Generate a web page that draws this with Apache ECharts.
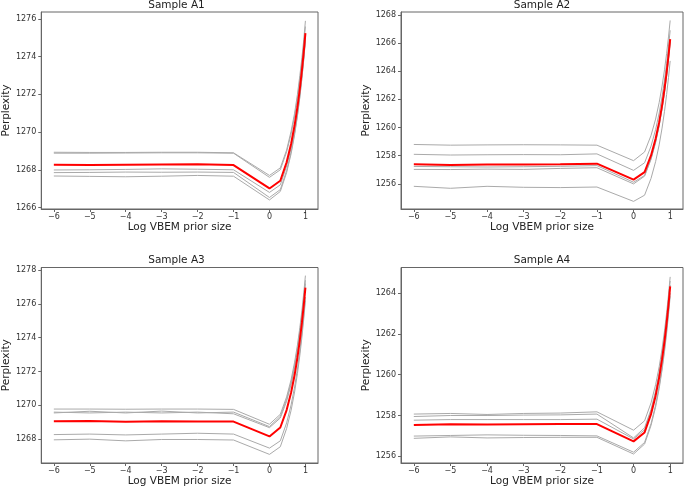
<!DOCTYPE html>
<html><head><meta charset="utf-8">
<script src="https://cdn.jsdelivr.net/npm/echarts@6/dist/echarts.min.js"></script>
<style>html,body{margin:0;padding:0;background:#fff}#c{width:685px;height:488px}</style>
</head><body><div id="c"></div>
<script>
// x = log10(prior size): 1e-6 ... 1e-1, then 1,2,...,10
const xVals = [-6,-5,-4,-3,-2,-1,0,0.301,0.477,0.602,0.699,0.778,0.845,0.903,0.954,1];
const xTicks = [-6,-5,-4,-3,-2,-1,0,1];
const titles = ['Sample A1','Sample A2','Sample A3','Sample A4'];

const a1Runs = [
 [1268.93,1268.92,1268.92,1268.93,1268.93,1268.90,1267.70,1268.10,1269.05,1270.05,1271.00,1272.00,1273.00,1273.95,1274.90,1275.90],
 [1268.88,1268.88,1268.89,1268.90,1268.90,1268.88,1267.60,1268.00,1268.95,1269.90,1270.85,1271.80,1272.75,1273.70,1274.65,1275.60],
 [1267.99,1268.00,1268.02,1268.05,1268.03,1268.00,1266.80,1267.20,1268.20,1269.15,1270.15,1271.10,1272.05,1273.05,1274.00,1275.00],
 [1267.85,1267.86,1267.88,1267.87,1267.88,1267.86,1266.53,1266.95,1267.95,1268.95,1269.95,1270.90,1271.90,1272.90,1273.90,1274.90],
 [1267.67,1267.65,1267.63,1267.66,1267.70,1267.66,1266.40,1266.85,1267.85,1268.85,1269.85,1270.85,1271.85,1272.85,1273.85,1274.85]
];
const a1Mean = [1268.27,1268.26,1268.27,1268.28,1268.29,1268.25,1267.01,1267.42,1268.40,1269.38,1270.36,1271.33,1272.31,1273.29,1274.27,1275.25];

const a2Runs = [
 [1258.80,1258.75,1258.77,1258.78,1258.77,1258.75,1257.65,1258.27,1259.44,1260.60,1261.77,1262.94,1264.10,1265.27,1266.43,1267.60],
 [1258.10,1258.05,1258.07,1258.08,1258.07,1258.13,1256.96,1257.50,1258.68,1259.85,1261.03,1262.20,1263.38,1264.55,1265.73,1266.90],
 [1257.24,1257.22,1257.20,1257.22,1257.25,1257.30,1256.12,1256.60,1257.79,1258.98,1260.16,1261.35,1262.54,1263.73,1264.91,1266.10],
 [1257.03,1257.02,1257.05,1257.03,1257.10,1257.15,1256.00,1256.55,1257.74,1258.93,1260.12,1261.31,1262.50,1263.69,1264.88,1266.07],
 [1255.83,1255.69,1255.83,1255.76,1255.74,1255.78,1254.76,1255.20,1256.39,1257.58,1258.77,1259.96,1261.15,1262.35,1263.54,1264.73]
];
const a2Mean = [1257.39,1257.35,1257.38,1257.38,1257.39,1257.44,1256.31,1256.84,1258.02,1259.20,1260.38,1261.56,1262.74,1263.92,1265.10,1266.28];

const a3Runs = [
 [1269.78,1269.78,1269.77,1269.78,1269.78,1269.76,1268.88,1269.47,1270.50,1271.52,1272.55,1273.57,1274.60,1275.62,1276.65,1277.67],
 [1269.55,1269.65,1269.55,1269.66,1269.55,1269.60,1268.74,1269.35,1270.36,1271.36,1272.37,1273.37,1274.38,1275.38,1276.39,1277.40],
 [1269.60,1269.55,1269.60,1269.55,1269.60,1269.50,1268.68,1269.25,1270.24,1271.24,1272.23,1273.23,1274.22,1275.21,1276.21,1277.20],
 [1268.27,1268.30,1268.25,1268.30,1268.35,1268.30,1267.47,1267.90,1268.96,1270.03,1271.09,1272.15,1273.21,1274.28,1275.34,1276.40],
 [1267.96,1268.00,1267.90,1267.98,1267.98,1267.95,1267.10,1267.55,1268.63,1269.71,1270.79,1271.88,1272.96,1274.04,1275.12,1276.20]
];
const a3Mean = [1269.06,1269.07,1269.03,1269.06,1269.05,1269.04,1268.16,1268.69,1269.72,1270.76,1271.79,1272.83,1273.86,1274.89,1275.93,1276.96];

const a4Runs = [
 [1258.07,1258.10,1258.05,1258.10,1258.12,1258.18,1257.28,1257.74,1258.62,1259.51,1260.39,1261.27,1262.15,1263.04,1263.92,1264.80],
 [1257.95,1258.00,1258.00,1258.02,1258.03,1258.07,1256.90,1257.40,1258.30,1259.20,1260.10,1261.00,1261.90,1262.80,1263.70,1264.60],
 [1257.77,1257.80,1257.80,1257.80,1257.80,1257.82,1256.85,1257.30,1258.19,1259.08,1259.96,1260.85,1261.74,1262.63,1263.51,1264.40],
 [1256.99,1257.02,1257.05,1257.03,1257.02,1257.00,1256.20,1256.68,1257.60,1258.51,1259.43,1260.34,1261.26,1262.17,1263.09,1264.00],
 [1256.88,1256.95,1256.90,1256.92,1256.93,1256.93,1256.11,1256.60,1257.51,1258.41,1259.32,1260.23,1261.13,1262.04,1262.94,1263.85]
];
const a4Mean = [1257.53,1257.57,1257.56,1257.57,1257.58,1257.58,1256.73,1257.17,1258.07,1258.96,1259.86,1260.75,1261.64,1262.54,1263.43,1264.33];

const yTicks = [
 [1266,1268,1270,1272,1274,1276],
 [1256,1258,1260,1262,1264,1266,1268],
 [1268,1270,1272,1274,1276,1278],
 [1256,1258,1260,1262,1264]
];
const runsAll = [a1Runs,a2Runs,a3Runs,a4Runs];
const meansAll = [a1Mean,a2Mean,a3Mean,a4Mean];

// layout
const grids = [
 {left:35, top:12, width:283, height:197},
 {left:401, top:12, width:282, height:197},
 {left:35, top:267.5, width:283, height:196.5},
 {left:401, top:267.5, width:282, height:196.5}
];
const yRanges = [[1265.92,1276.37],[1254.22,1268.2],[1266.59,1278.15],[1255.67,1265.26]];

const FONT = 'DejaVu Sans';
const fmtMinus = v => (v < 0 ? '\u2212' + (-v) : String(v));

const option = {
  animation:false,
  backgroundColor:'#fff',
  title: titles.map((t,i)=>({
    text:t, left: grids[i].left + grids[i].width/2, top: grids[i].top - 12.5, textAlign:'center', padding:0,
    textStyle:{fontFamily:FONT,fontSize:10.5,fontWeight:'normal',color:'#222'}
  })),
  grid: grids.map(g=>Object.assign({show:true,borderColor:'#666',borderWidth:1,backgroundColor:'#fff'},g)),
  xAxis: grids.map((g,i)=>({
    type:'value', gridIndex:i, min:-6.35, max:1.35,
    name:'Log VBEM prior size', nameLocation:'middle', nameGap:13,
    nameTextStyle:{fontFamily:FONT,fontSize:10.5,color:'#222'},
    axisLine:{show:true,onZero:false,lineStyle:{color:'#666',width:1}},
    axisTick:{show:true,length:3,lineStyle:{color:'#666'},customValues:xTicks},
    axisLabel:{fontFamily:FONT,fontSize:8,color:'#333',margin:4,customValues:xTicks,formatter:fmtMinus},
    splitLine:{show:false}
  })),
  yAxis: grids.map((g,i)=>({
    type:'value', gridIndex:i, min:yRanges[i][0], max:yRanges[i][1],
    name:'Perplexity', nameLocation:'middle', nameGap:26, nameRotate:90,
    nameTextStyle:{fontFamily:FONT,fontSize:10.5,color:'#222'},
    axisLine:{show:true,onZero:false,lineStyle:{color:'#666',width:1}},
    axisTick:{show:true,length:3,lineStyle:{color:'#666'},customValues:yTicks[i]},
    axisLabel:{fontFamily:FONT,fontSize:8,color:'#333',margin:5,customValues:yTicks[i],formatter:v=>String(v)},
    splitLine:{show:false}
  })),
  series: []
};
for (let i=0;i<4;i++){
  runsAll[i].forEach(run=>{
    option.series.push({type:'line',xAxisIndex:i,yAxisIndex:i,showSymbol:false,symbol:'none',
      data: xVals.map((x,k)=>[x,run[k]]),
      lineStyle:{color:'#aaaaaa',width:1},itemStyle:{color:'#aaaaaa'},silent:true,z:2});
  });
  option.series.push({type:'line',xAxisIndex:i,yAxisIndex:i,showSymbol:false,symbol:'none',
    data: xVals.map((x,k)=>[x,meansAll[i][k]]),
    lineStyle:{color:'#ff0000',width:2},itemStyle:{color:'#ff0000'},silent:true,z:3});
}
const chart = echarts.init(document.getElementById('c'),null,{renderer:'canvas'});
chart.setOption(option);
</script>
</body></html>
